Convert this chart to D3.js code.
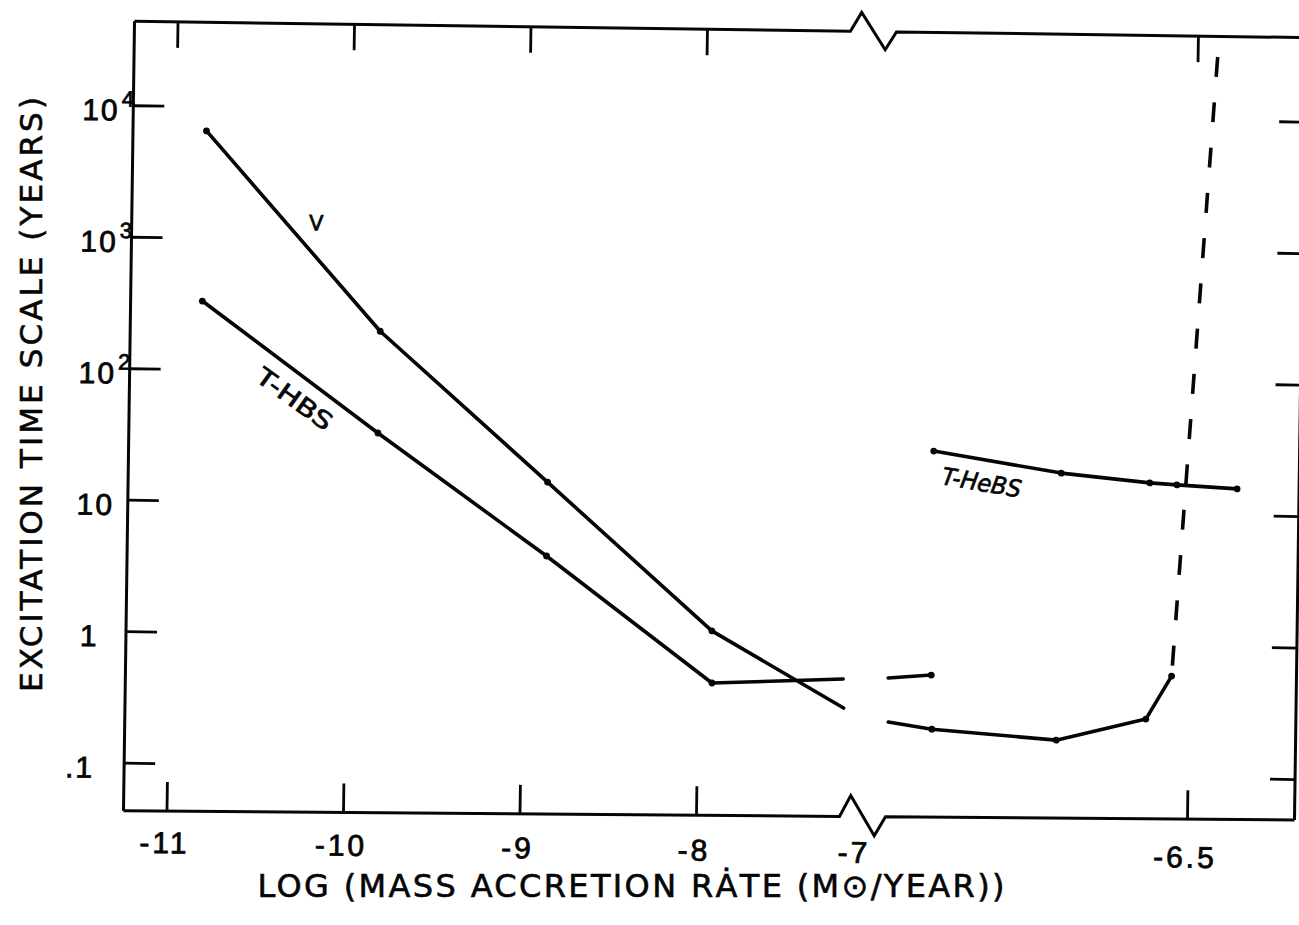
<!DOCTYPE html>
<html><head><meta charset="utf-8">
<script src="https://cdn.jsdelivr.net/npm/d3@7"></script>
<style>body{margin:0;background:#fff}svg{display:block}</style>
</head><body>
<svg id="c" width="1299" height="925"></svg>
<script>
// ---- data ----
const xTickValues = [-11, -10, -9, -8, -6.5];
const xTickLabelValues = [-11, -10, -9, -8, -7, -6.5];
const yTickValues = [0.1, 1, 10, 100, 1000, 10000];
const yTickBase = [".1", "1", "10", "10", "10", "10"];
const yTickSup = ["", "", "", "2", "3", "4"];

const vLeftX = [-10.83, -9.83, -8.87, -7.92, -7.09];
const vLeftY = [6550, 205, 15.2, 1.17, 0.313];
const vRightX = [-6.954, -6.888, -6.70, -6.565, -6.527];
const vRightY = [0.248, 0.221, 0.188, 0.278, 0.594];
const vDashX = [-6.47, -6.527];
const vDashY = [33400, 0.594];
const thbsLeftX = [-10.84, -9.835, -8.87, -7.915, -7.095];
const thbsLeftY = [333, 34.5, 4.17, 0.47, 0.52];
const thbsRightX = [-6.955, -6.89];
const thbsRightY = [0.536, 0.57];
const thebsX = [-6.891, -6.698, -6.564, -6.523, -6.432];
const thebsY = [28.8, 20.2, 17.4, 16.9, 16.0];

// ---- layout ----
const FONT = "'DejaVu Sans', 'Liberation Sans', sans-serif";
const NUMFONT = "'Liberation Sans Narrow', 'Liberation Sans', sans-serif";
const frame = {left: 129, right: 1300, top: 28.5, bottomL: 818, bottomR: 811};
const bottomAt = px => frame.bottomL + (frame.bottomR - frame.bottomL) * (px - frame.left) / (frame.right - frame.left);
const x = d3.scaleLinear().domain([-11, -8, -7, -6.5]).range([172.5, 702, 862, 1193]);
const y = d3.scaleLog().domain([0.1, 1e4]).range([770.5, 113]);

const svg = d3.select("#c");
svg.append("rect").attr("width", 1299).attr("height", 925).attr("fill", "#fff");
const g = svg.append("g").attr("transform", "rotate(0.8,650,420)");

const ink = "#050505";
const breakStart = x(-7) - 17, breakEnd = x(-7) + 29;
const textInk = (s, w) => s.attr("fill", ink).attr("stroke", ink).attr("stroke-width", w || 0.7);

// frame with axis breaks
function hBreakLine(yf, up, down) {
  const p = d3.path();
  p.moveTo(frame.left, yf(frame.left));
  p.lineTo(breakStart, yf(breakStart));
  p.lineTo(breakStart + 11, yf(breakStart + 11) - up);
  p.lineTo(breakStart + 35, yf(breakStart + 35) + down);
  p.lineTo(breakEnd, yf(breakEnd));
  p.lineTo(frame.right, yf(frame.right));
  return p.toString();
}
const frameStyle = s => s.attr("fill", "none").attr("stroke", ink).attr("stroke-width", 3).attr("stroke-linejoin", "miter");
g.append("path").attr("d", hBreakLine(() => frame.top, 19, 18)).call(frameStyle);
g.append("path").attr("d", hBreakLine(bottomAt, 21, 19)).call(frameStyle);
g.append("path").attr("d", `M${frame.left},${frame.top}V${bottomAt(frame.left)}`).call(frameStyle);
g.append("path").attr("d", `M${frame.right},${frame.top}V${bottomAt(frame.right)}`).call(frameStyle);

// ticks
const tickG = g.append("g").attr("stroke", ink).attr("stroke-width", 2.8);
xTickValues.forEach(v => {
  const b = bottomAt(x(v));
  tickG.append("line").attr("x1", x(v)).attr("x2", x(v)).attr("y1", b).attr("y2", b - 29);
  tickG.append("line").attr("x1", x(v)).attr("x2", x(v)).attr("y1", frame.top).attr("y2", frame.top + 26);
});
yTickValues.forEach(v => {
  tickG.append("line").attr("x1", frame.left).attr("x2", frame.left + 31).attr("y1", y(v)).attr("y2", y(v));
  tickG.append("line").attr("x1", frame.right - 25).attr("x2", frame.right).attr("y1", y(v)).attr("y2", y(v));
});

// tick labels
xTickLabelValues.forEach(v => {
  g.append("text").attr("x", x(v) - 2).attr("y", 860)
    .attr("text-anchor", "middle").attr("font-family", NUMFONT).attr("font-size", 30)
    .attr("letter-spacing", 3).call(textInk, 0.8).text(String(v));
});
yTickValues.forEach((v, i) => {
  const base = yTickBase[i];
  const lx = base === "10" ? 78 : (base === "1" ? 83 : 70);
  const t = g.append("text").attr("x", lx).attr("y", y(v) + 15)
    .attr("font-family", NUMFONT).attr("font-size", 30).attr("letter-spacing", 2).call(textInk, 0.8);
  t.append("tspan").text(base);
  if (yTickSup[i]) t.append("tspan").attr("font-size", 22).attr("dy", -14).attr("dx", 2).text(yTickSup[i]);
});

// data lines
const line = d3.line().x(d => x(d[0])).y(d => y(d[1]));
const zip = (a, b) => a.map((v, i) => [v, b[i]]);
const series = [zip(vLeftX, vLeftY), zip(vRightX, vRightY), zip(thbsLeftX, thbsLeftY), zip(thbsRightX, thbsRightY), zip(thebsX, thebsY)];
series.forEach(s => {
  g.append("path").attr("d", line(s)).attr("fill", "none").attr("stroke", ink)
    .attr("stroke-width", 3.6).attr("stroke-linejoin", "round").attr("stroke-linecap", "round");
  s.filter(d => !(d[0] > -7.15 && d[0] < -6.93)).forEach(d => {
    g.append("circle").attr("cx", x(d[0])).attr("cy", y(d[1])).attr("r", 3.4).attr("fill", ink);
  });
});
// dashed asymptote
g.append("path").attr("d", line(zip(vDashX, vDashY))).attr("fill", "none").attr("stroke", ink)
  .attr("stroke-width", 3.6).attr("stroke-dasharray", "20,25.4").attr("stroke-dashoffset", 40.4);

// curve labels
g.append("text").attr("x", x(-10.2)).attr("y", 235).attr("text-anchor", "middle")
  .attr("font-family", FONT).attr("font-size", 21).call(textInk).text("V");
g.append("text").attr("transform", `translate(${x(-10.31)},404) rotate(35)`).attr("dy", "0.35em")
  .attr("text-anchor", "middle").attr("font-family", FONT).attr("font-size", 24)
  .attr("textLength", 88).attr("lengthAdjust", "spacingAndGlyphs").call(textInk).text("T-HBS");
g.append("text").attr("transform", `translate(${x(-6.818)},478) rotate(9)`).attr("dy", "0.35em")
  .attr("text-anchor", "middle").attr("font-family", FONT).attr("font-size", 24).attr("font-style", "italic")
  .attr("textLength", 80).attr("lengthAdjust", "spacingAndGlyphs").call(textInk).text("T-HeBS");

// axis titles
svg.append("text").attr("x", 631).attr("y", 897).attr("text-anchor", "middle")
  .attr("font-family", FONT).attr("font-size", 32).call(textInk, 0.6)
  .attr("textLength", 747).attr("lengthAdjust", "spacing")
  .text("LOG (MASS ACCRETION RȦTE (M⊙/YEAR))");
svg.append("text").attr("transform", "translate(42,394.5) rotate(-90)").attr("text-anchor", "middle")
  .attr("font-family", FONT).attr("font-size", 31).call(textInk, 0.6)
  .attr("textLength", 595).attr("lengthAdjust", "spacing")
  .text("EXCITATION TIME SCALE (YEARS)");
</script>
</body></html>
